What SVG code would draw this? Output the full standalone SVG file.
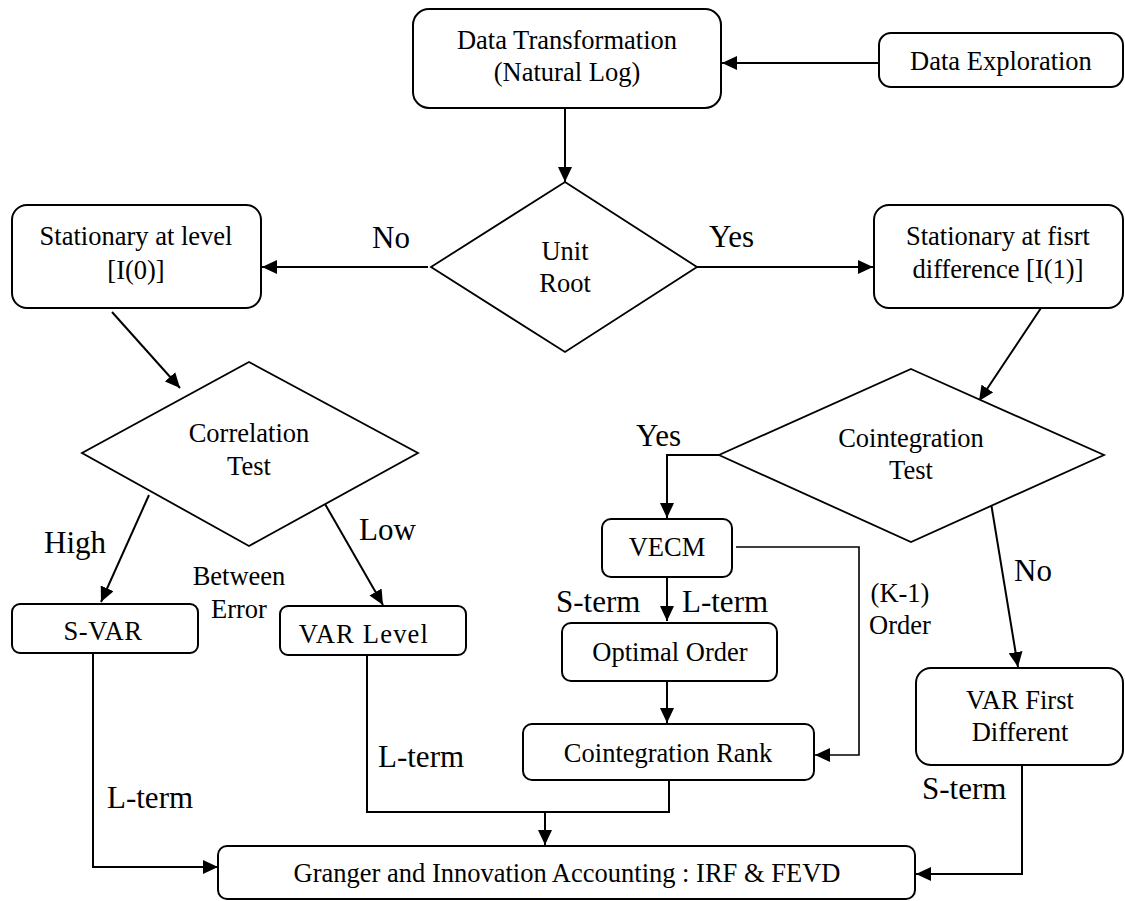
<svg xmlns="http://www.w3.org/2000/svg" width="1125" height="901" viewBox="0 0 1125 901">
<style>
.box{fill:#fff;stroke:#000;stroke-width:2}
.dia{fill:#fff;stroke:#000;stroke-width:1.8}
.t{font-family:"Liberation Serif","Times New Roman",serif;font-size:26.5px;fill:#000;text-anchor:middle}
.lb{font-family:"Liberation Serif","Times New Roman",serif;font-size:31px;fill:#000}
.c{fill:none;stroke:#000;stroke-width:2}
.c2{fill:none;stroke:#000;stroke-width:1.6}
</style>
<defs>
<marker id="ah" markerUnits="userSpaceOnUse" markerWidth="16" markerHeight="14" refX="15" refY="7" orient="auto">
<path d="M0,0 L15,7 L0,14 z" fill="#000"/>
</marker>
</defs>
<rect width="1125" height="901" fill="#fff"/>
<g id="connectors">
<line class="c" x1="879" y1="63" x2="722" y2="63" marker-end="url(#ah)"/>
<line class="c" x1="565" y1="108" x2="565" y2="182" marker-end="url(#ah)"/>
<line class="c" x1="428" y1="267" x2="262" y2="267" marker-end="url(#ah)"/>
<line class="c" x1="697" y1="267" x2="873" y2="267" marker-end="url(#ah)"/>
<line class="c" x1="112" y1="312" x2="180" y2="388" marker-end="url(#ah)"/>
<line class="c" x1="1041" y1="308" x2="979" y2="401" marker-end="url(#ah)"/>
<line class="c" x1="149" y1="495" x2="101" y2="602" marker-end="url(#ah)"/>
<line class="c" x1="321" y1="497" x2="383" y2="605" marker-end="url(#ah)"/>
<polyline class="c" points="719,455 667,455 667,518" marker-end="url(#ah)"/>
<line class="c" x1="667" y1="578" x2="667" y2="621" marker-end="url(#ah)"/>
<line class="c" x1="667" y1="681" x2="667" y2="723" marker-end="url(#ah)"/>
<polyline class="c2" points="736,547 859,547 859,755 815,755" marker-end="url(#ah)"/>
<line class="c" x1="991" y1="503" x2="1018" y2="667" marker-end="url(#ah)"/>
<polyline class="c" points="93,653 93,867 218,867" marker-end="url(#ah)"/>
<polyline class="c" points="367,655 367,812 669,812 669,780"/>
<line class="c" x1="545" y1="812" x2="545" y2="845" marker-end="url(#ah)"/>
<polyline class="c" points="1022,766 1022,874 916,874" marker-end="url(#ah)"/>
</g>
<g id="n-data-transformation">
<rect class="box" x="413" y="9" width="308" height="99" rx="16"/>
<text class="t" x="567" y="49">Data Transformation</text>
<text class="t" x="567" y="81">(Natural Log)</text>
</g>
<g id="n-data-exploration">
<rect class="box" x="879" y="33" width="244" height="54" rx="12"/>
<text class="t" x="1001" y="70">Data Exploration</text>
</g>
<g id="n-unit-root">
<polygon class="dia" points="565,182 697,267 565,352 431,267"/>
<text class="t" x="565" y="260">Unit</text>
<text class="t" x="565" y="292">Root</text>
</g>
<g id="n-stationary-level">
<rect class="box" x="12" y="205" width="249" height="103" rx="15"/>
<text class="t" x="136" y="245">Stationary at level</text>
<text class="t" x="136" y="279">[I(0)]</text>
</g>
<g id="n-stationary-first">
<rect class="box" x="874" y="205" width="249" height="103" rx="15"/>
<text class="t" x="998" y="245">Stationary at fisrt</text>
<text class="t" x="998" y="278">difference [I(1)]</text>
</g>
<g id="n-correlation">
<polygon class="dia" points="249,362 418,453 249,546 82,453"/>
<text class="t" x="249" y="442">Correlation</text>
<text class="t" x="249" y="475">Test</text>
</g>
<g id="n-cointegration-test">
<polygon class="dia" points="911,369 1104,455 911,542 719,455"/>
<text class="t" x="911" y="447">Cointegration</text>
<text class="t" x="911" y="479">Test</text>
</g>
<g id="n-svar">
<rect class="box" x="12" y="604" width="186" height="49" rx="8"/>
<text class="t" x="103" y="640" letter-spacing="0.6">S-VAR</text>
</g>
<g id="n-var-level">
<rect class="box" x="280" y="606" width="186" height="49" rx="8"/>
<text class="t" x="364" y="643" letter-spacing="1.2">VAR Level</text>
</g>
<g id="n-vecm">
<rect class="box" x="602" y="519" width="130" height="58" rx="9"/>
<text class="t" x="667" y="556">VECM</text>
</g>
<g id="n-optimal-order">
<rect class="box" x="562" y="623" width="215" height="58" rx="9"/>
<text class="t" x="670" y="661">Optimal Order</text>
</g>
<g id="n-cointegration-rank">
<rect class="box" x="523" y="724" width="291" height="56" rx="9"/>
<text class="t" x="668" y="762">Cointegration Rank</text>
</g>
<g id="n-var-first">
<rect class="box" x="916" y="668" width="207" height="97" rx="15"/>
<text class="t" x="1020" y="709">VAR First</text>
<text class="t" x="1020" y="741">Different</text>
</g>
<g id="n-granger">
<rect class="box" x="218" y="846" width="697" height="53" rx="9"/>
<text class="t" x="567" y="882">Granger and Innovation Accounting : IRF &amp; FEVD</text>
</g>
<g id="labels">
<text class="lb" x="372" y="248">No</text>
<text class="lb" x="709" y="247">Yes</text>
<text class="lb" x="636" y="446">Yes</text>
<text class="lb" x="1014" y="581">No</text>
<text class="lb" x="44" y="553">High</text>
<text class="lb" x="359" y="540">Low</text>
<text class="t" x="239" y="585">Between</text>
<text class="t" x="239" y="618">Error</text>
<text class="lb" x="556" y="612">S-term</text>
<text class="lb" x="682" y="612">L-term</text>
<text class="t" x="900" y="602">(K-1)</text>
<text class="t" x="900" y="634">Order</text>
<text class="lb" x="107" y="808">L-term</text>
<text class="lb" x="378" y="767">L-term</text>
<text class="lb" x="922" y="799">S-term</text>
</g>
</svg>
